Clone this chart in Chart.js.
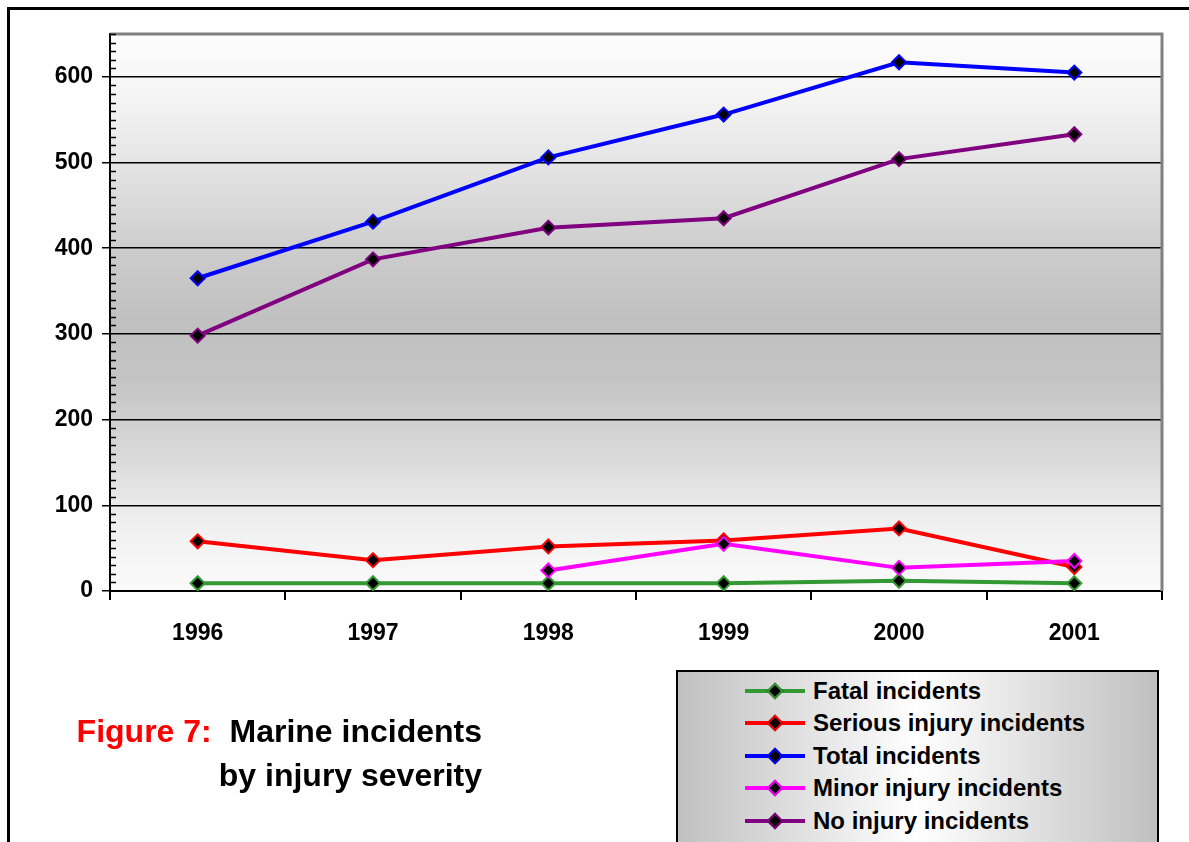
<!DOCTYPE html>
<html>
<head>
<meta charset="utf-8">
<script src="https://cdn.jsdelivr.net/npm/chart.js@4/dist/chart.umd.min.js"></script>
<style>
html,body{margin:0;padding:0;background:#fff;width:1189px;height:842px;overflow:hidden;font-family:"Liberation Sans",Arial,sans-serif}
#wrap{position:relative;width:1189px;height:842px}
#frame{position:absolute;left:7px;top:7px;width:1300px;height:1000px;border-left:3px solid #000;border-top:3px solid #000;box-sizing:border-box}
#c{position:absolute;left:0;top:0}
#title{position:absolute;right:707px;top:709px;font-size:32px;font-weight:bold;line-height:44px;text-align:right;color:#000;white-space:nowrap}
#title .red{color:#ff0000}
#legend{position:absolute;left:676px;top:670px;width:483px;height:220px;border:2px solid #000;box-sizing:border-box;background:linear-gradient(to right,#c0c0c0 0%,#ffffff 50%,#c0c0c0 100%)}
.row{position:absolute;left:67px;height:30px;width:400px}
.sw{position:absolute;left:0;top:13px;width:60px;height:4px}
.dm{position:absolute;left:24px;top:9px;width:8px;height:8px;background:#000;border:2px solid;transform:rotate(45deg)}
.lb{position:absolute;left:68px;top:0;font-size:24px;font-weight:bold;line-height:30px;white-space:nowrap}
</style>
</head>
<body>
<div id="wrap">
  <div id="frame"></div>
  <canvas id="c" width="1189" height="842"></canvas>
  <div id="title"><span class="red">Figure 7:</span>&nbsp; Marine incidents<br>by injury severity</div>
  <div id="legend"></div>
</div>
<script>
const years=['1996','1997','1998','1999','2000','2001'];
const fatal=[9,9,9,9,12,9];
const serious=[58,36,52,59,73,28];
const total=[365,431,506,556,617,605];
const minor=[null,null,24,55,27,35];
const noInjury=[298,387,424,435,504,533];
const seriesNames=['Fatal incidents','Serious injury incidents','Total incidents','Minor injury incidents','No injury incidents'];
const seriesColors=['#339933','#ff0000','#0000ff','#ff00ff','#800080'];
const seriesData=[fatal,serious,total,minor,noInjury];
const yTickLabels=[0,100,200,300,400,500,600];

// plot background + frame + minor ticks
const plotDeco={
  id:'plotDeco',
  beforeDraw(chart){
    const {ctx,chartArea:a}=chart;
    const g=ctx.createLinearGradient(0,a.top,0,a.bottom);
    g.addColorStop(0,'#fdfdfd');
    g.addColorStop(0.1,'#f6f6f6');
    g.addColorStop(0.25,'#e2e2e2');
    g.addColorStop(0.4,'#cbcbcb');
    g.addColorStop(0.52,'#c0c0c0');
    g.addColorStop(0.62,'#c4c4c4');
    g.addColorStop(0.76,'#dadada');
    g.addColorStop(0.88,'#f0f0f0');
    g.addColorStop(1,'#fafafa');
    ctx.save();ctx.fillStyle=g;ctx.fillRect(a.left,a.top,a.right-a.left,a.bottom-a.top);ctx.restore();
  },
  afterDraw(chart){
    const {ctx,chartArea:a}=chart;
    const y=chart.scales.y;
    ctx.save();
    ctx.strokeStyle='#808080';ctx.lineWidth=3;
    ctx.beginPath();ctx.moveTo(a.left,a.top);ctx.lineTo(a.right,a.top);ctx.lineTo(a.right,a.bottom);ctx.stroke();
    ctx.strokeStyle='#000';ctx.lineWidth=1.5;
    for(let v=10;v<=650;v+=10){
      if(v%100===0) continue;
      const py=Math.round(y.getPixelForValue(v))+0.5;
      ctx.beginPath();ctx.moveTo(a.left,py);ctx.lineTo(a.left+6,py);ctx.stroke();
    }
    ctx.restore();
  }
};

const datasets=seriesNames.map((n,i)=>({
  label:n,
  data:seriesData[i],
  borderColor:seriesColors[i],
  backgroundColor:'#000',
  borderWidth:4,
  pointStyle:'rectRot',
  pointRadius:7,
  pointBorderWidth:2,
  pointBorderColor:seriesColors[i],
  pointBackgroundColor:'#000',
  tension:0,
  order:i===3?-1:i
}));

new Chart(document.getElementById('c'),{
  type:'line',
  data:{labels:years,datasets},
  options:{
    responsive:false,
    animation:false,
    layout:{padding:{left:0,right:27,top:34,bottom:0}},
    plugins:{legend:{display:false},tooltip:{enabled:false}},
    scales:{
      x:{
        offset:true,
        grid:{offset:true,drawOnChartArea:false,color:'#000',tickLength:9,lineWidth:2},
        border:{color:'#000',width:2},
        ticks:{color:'#000',padding:20,font:{family:'Liberation Sans',size:23,weight:'bold'}},
        afterFit(s){s.height=251;}
      },
      y:{
        min:0,max:650,
        grid:{
          color:c=>(c.tick&&yTickLabels.includes(c.tick.value)&&c.tick.value!==0)?'#000':'rgba(0,0,0,0)',
          tickColor:c=>(c.tick&&yTickLabels.includes(c.tick.value))?'#000':'rgba(0,0,0,0)',
          tickLength:8,lineWidth:1.5
        },
        border:{color:'#000',width:2},
        ticks:{
          stepSize:10,autoSkip:false,color:'#000',padding:9,
          font:{family:'Liberation Sans',size:23,weight:'bold'},
          callback:v=>yTickLabels.includes(v)?String(v):''
        },
        afterFit(s){s.width=110;}
      }
    }
  },
  plugins:[plotDeco]
});

// legend
const leg=document.getElementById('legend');
const rowTops=[4,36,69,101,134];
seriesNames.forEach((n,i)=>{
  const r=document.createElement('div');r.className='row';r.style.top=rowTops[i]+'px';
  r.innerHTML='<div class="sw" style="background:'+seriesColors[i]+'"></div><div class="dm" style="border-color:'+seriesColors[i]+'"></div><div class="lb">'+n+'</div>';
  leg.appendChild(r);
});
</script>
</body>
</html>
